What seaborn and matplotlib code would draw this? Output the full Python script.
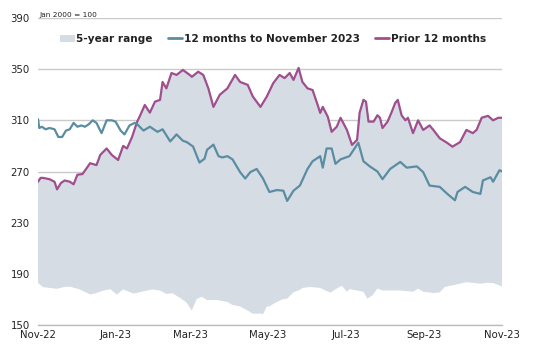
import numpy as np
import pandas as pd
import matplotlib
matplotlib.use("Agg")
import matplotlib.pyplot as plt
import matplotlib.dates as mdates
from matplotlib.patches import Patch
from matplotlib.lines import Line2D
import seaborn as sns

# ---- data (days since 1 Nov 2022, index Jan 2000 = 100) ----
start_date = "2022-11-01"

current_days = [0, 1, 3, 6, 9, 13, 16, 19, 22, 25, 28, 31, 34, 37, 40, 43, 46, 50, 52, 54,
                58, 61, 65, 68, 72, 76, 78, 83, 88, 94, 98, 104, 109, 114, 117, 122, 127, 131,
                133, 138, 142, 145, 149, 153, 159, 163, 167, 172, 177, 182, 188, 193, 196, 201,
                206, 212, 216, 222, 224, 227, 231, 234, 238, 245, 252, 256, 261, 267, 271, 277,
                285, 290, 298, 303, 308, 316, 322, 328, 330, 336, 342, 348, 350, 356, 358, 363, 365]
current_vals = [311, 304, 305, 303, 304, 303, 297, 297, 302, 303, 308, 305, 306, 305, 307, 310,
                308, 300, 305, 310, 310, 309, 302, 299, 306, 308, 307, 302, 305, 301, 303, 293.5,
                299, 294, 293, 289.5, 277, 280, 287, 291, 282, 281, 282, 279.5, 269.5, 264.5,
                269.5, 272, 264.5, 254, 255.5, 255, 247, 255, 259, 272, 278, 282, 273, 288, 288,
                276, 279.5, 282, 292.5, 278, 274, 270, 264, 272, 277.5, 273, 274, 269.5, 259,
                258, 252.5, 247.5, 254, 258, 254, 252.5, 263, 265.5, 262, 271, 270]

prior_days = [0, 2, 4, 9, 13, 15, 18, 21, 25, 28, 31, 35, 41, 46, 49, 54, 58, 63, 67, 70, 74,
              78, 80, 84, 88, 92, 96, 98, 101, 105, 109, 114, 120, 121, 126, 130, 134, 138, 143,
              149, 155, 159, 165, 169, 175, 180, 185, 190, 194, 198, 201, 205, 208, 212, 216,
              220, 222, 224, 228, 231, 235, 238, 243, 247, 251, 253, 256, 258, 260, 264, 267,
              269, 271, 275, 278, 281, 283, 286, 289, 291, 295, 299, 303, 308, 311, 316, 322,
              326, 332, 337, 342, 345, 349, 354, 358, 362, 365]
prior_vals = [262, 265, 265, 264, 262, 256, 261, 263, 262, 260, 267.5, 268, 276.5, 275, 283,
              288, 283, 279, 290, 288, 297, 309, 313, 322, 316, 324.6, 326, 340, 335, 347,
              345.5, 349.4, 345, 344, 348, 345.5, 335, 320.5, 330, 335, 345.5, 340, 337.7,
              328.6, 320.5, 328.6, 339, 345.5, 343, 347, 341.6, 351, 340, 335, 333.7, 322,
              315.8, 320.5, 312.7, 301, 305, 312, 302.5, 290.8, 294.7, 316, 326, 324.6, 309,
              309, 314, 312, 304, 309, 316, 323.6, 326, 314, 310, 312, 300, 310, 302.5, 306,
              302.5, 296, 292.3, 289.4, 293, 302.5, 300, 302.5, 312, 313.5, 310, 312, 312]

# 5-year range: upper bound follows the prior-12-month line, lower bound below
range_low_days = [0, 4, 15, 20, 25, 33, 41, 46, 51, 57, 62, 67, 75, 80, 86, 90, 96, 101, 106,
                  112, 117, 121, 125, 129, 133, 141, 149, 153, 159, 165, 169, 175, 177, 180,
                  182, 186, 192, 196, 201, 206, 208, 214, 222, 226, 230, 235, 239, 243, 245,
                  251, 256, 259, 263, 267, 271, 285, 295, 299, 303, 311, 316, 320, 326, 332,
                  337, 342, 348, 353, 358, 363, 365]
range_low_vals = [183, 179.6, 178.3, 179.6, 180, 177.8, 173.8, 175, 176.8, 178, 173.8, 177.8,
                  174.6, 175.6, 177, 177.8, 177, 174.3, 174.8, 171, 167.4, 161.3, 170.6, 172,
                  169.5, 169.5, 168, 165.7, 164.5, 161.3, 158.8, 159, 158.4, 164.5, 164.5, 167,
                  170, 170.6, 175.6, 177.4, 179, 179.7, 179, 177, 175.3, 178.5, 180.7, 176, 178,
                  177, 176, 170.6, 173, 178.5, 177, 177, 176, 178.5, 176, 175, 175.5, 179.7, 181,
                  182.3, 183.5, 183, 182.3, 183, 182.8, 181, 180]

yticks = [150, 190, 230, 270, 310, 350, 390]
xtick_dates = ["2022-11-01", "2023-01-01", "2023-03-01", "2023-05-01",
               "2023-07-01", "2023-09-01", "2023-11-01"]
legend_labels = ["5-year range", "12 months to November 2023", "Prior 12 months"]
note = "Jan 2000 = 100"

# ---- styling ----
TEAL = "#5b8da2"
PURPLE = "#9f4f8e"
AREA = "#d6dce4"
GRID = "#cacaca"
TEXT = "#222222"

sns.set_theme(style="white")
plt.rcParams["font.family"] = ["DejaVu Sans"]

t0 = pd.Timestamp(start_date)
to_dates = lambda d: t0 + pd.to_timedelta(np.asarray(d), unit="D")

cur = pd.DataFrame({"date": to_dates(current_days), "value": current_vals})
pri = pd.DataFrame({"date": to_dates(prior_days), "value": prior_vals})

fig = plt.figure(figsize=(5.33, 3.48), dpi=100)
ax = fig.add_axes([38 / 533, 23 / 348, (502 - 38) / 533, (325 - 18) / 348])

sns.lineplot(data=pri, x="date", y="value", ax=ax, color=PURPLE, lw=1.6, zorder=3)
sns.lineplot(data=cur, x="date", y="value", ax=ax, color=TEAL, lw=1.6, zorder=4)

# range area (upper edge = prior line, lower edge = range low)
upper = np.column_stack([mdates.date2num(to_dates(prior_days)), prior_vals])
lower = np.column_stack([mdates.date2num(to_dates(range_low_days)), range_low_vals])[::-1]
poly = plt.Polygon(np.vstack([upper, lower]), closed=True, facecolor=AREA,
                   edgecolor="none", zorder=1)
ax.add_patch(poly)

ax.set_xlim(pd.Timestamp(xtick_dates[0]), pd.Timestamp(xtick_dates[-1]))
ax.set_ylim(yticks[0], yticks[-1])
ax.set_yticks(yticks)
ax.set_xticks([pd.Timestamp(d) for d in xtick_dates])
ax.xaxis.set_major_formatter(mdates.DateFormatter("%b-%y"))
ax.set_xlabel("")
ax.set_ylabel("")
ax.grid(axis="y", color=GRID, lw=1.0, zorder=0)
ax.set_axisbelow(True)
for s in ["top", "right", "left"]:
    ax.spines[s].set_visible(False)
ax.spines["bottom"].set_color("#bdbdbd")
ax.spines["bottom"].set_linewidth(1.0)
ax.tick_params(axis="both", length=0, labelsize=7.3, colors=TEXT)
ax.tick_params(axis="y", pad=6)
ax.tick_params(axis="x", pad=3.5)

fig.text(39 / 533, 1 - 17 / 348, note, fontsize=5.3, color=TEXT, va="baseline", ha="left")

handles = [Patch(facecolor=AREA, edgecolor="none"),
           Line2D([0], [0], color=TEAL, lw=2),
           Line2D([0], [0], color=PURPLE, lw=2)]
leg = fig.legend(handles, legend_labels, loc="center", ncol=3,
                 bbox_to_anchor=(273 / 533, 1 - 39 / 348), frameon=False,
                 prop={"weight": "bold", "size": 7.6}, handlelength=1.4,
                 handleheight=0.6, handletextpad=0.15, columnspacing=1.4,
                 borderpad=0, borderaxespad=0)
for t in leg.get_texts():
    t.set_color(TEXT)

fig.savefig("out.png", dpi=100)
